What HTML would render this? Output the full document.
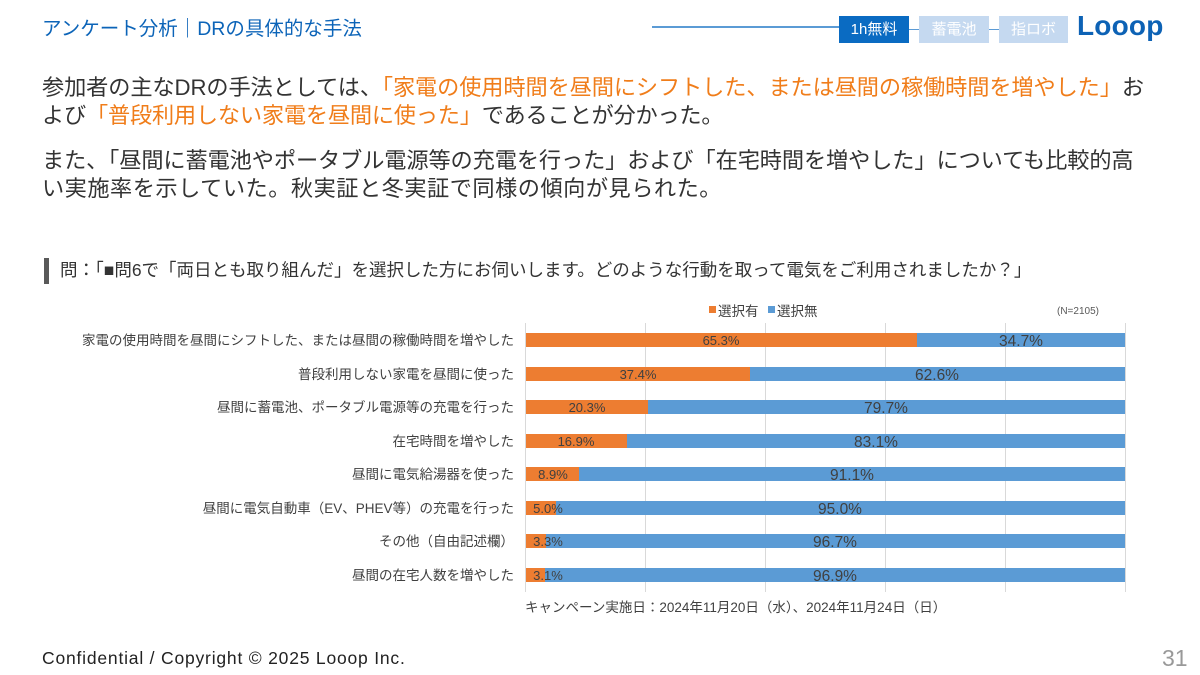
<!DOCTYPE html>
<html><head><meta charset="utf-8">
<style>
html,body{margin:0;padding:0;background:#fff;}
body{width:1200px;height:675px;position:relative;overflow:hidden;font-family:"Liberation Sans","Noto Sans CJK JP",sans-serif;}
.a{position:absolute;white-space:nowrap;}
.t{color:#333;font-size:22.2px;line-height:24px;}
.o{color:#f07d1a;}
</style></head><body>
<div class="a" style="left:42px;top:18px;font-size:19.5px;line-height:22px;color:#0c64b8;">アンケート分析｜DRの具体的な手法</div>
<div class="a" style="left:652px;top:26px;width:188px;height:2px;background:#5b9bd5;"></div>
<div class="a" style="left:909px;top:29px;width:10px;height:1px;background:#5b9bd5;"></div>
<div class="a" style="left:989px;top:29px;width:10px;height:1px;background:#5b9bd5;"></div>
<div class="a" style="left:839px;top:16px;width:70px;height:27px;background:#0a6bc2;color:#fff;font-size:15px;line-height:27px;text-align:center;">1h無料</div>
<div class="a" style="left:919px;top:16px;width:70px;height:27px;background:#c5d9f0;color:#fff;font-size:15px;line-height:27px;text-align:center;">蓄電池</div>
<div class="a" style="left:999px;top:16px;width:69px;height:27px;background:#c5d9f0;color:#fff;font-size:15px;line-height:27px;text-align:center;">指ロボ</div>
<div class="a" style="left:1077px;top:10px;font-size:28px;line-height:32px;font-weight:bold;color:#0d62b5;letter-spacing:0.2px;">Looop</div>

<div class="a t" style="left:42px;top:76px;letter-spacing:-0.1px;">参加者の主なDRの手法としては、<span class="o">「家電の使用時間を昼間にシフトした、または昼間の稼働時間を増やした」</span>お</div>
<div class="a t" style="left:42px;top:104px;letter-spacing:-0.2px;">よび<span class="o">「普段利用しない家電を昼間に使った」</span>であることが分かった。</div>
<div class="a t" style="left:42px;top:149px;letter-spacing:-0.1px;">また、「昼間に蓄電池やポータブル電源等の充電を行った」および「在宅時間を増やした」についても比較的高</div>
<div class="a t" style="left:42px;top:177px;letter-spacing:0.5px;">い実施率を示していた。秋実証と冬実証で同様の傾向が見られた。</div>

<div class="a" style="left:44px;top:258px;width:5px;height:26px;background:#595959;"></div>
<div class="a" style="left:60px;top:260px;font-size:17.5px;line-height:20px;color:#333;">問：「■問6で「両日とも取り組んだ」を選択した方にお伺いします。どのような行動を取って電気をご利用されましたか？」</div>

<svg class="a" style="left:0;top:0;" width="1200" height="675" xmlns="http://www.w3.org/2000/svg" font-family="Liberation Sans, Noto Sans CJK JP, sans-serif">
  <g stroke="#d9d9d9" stroke-width="1">
    <line x1="645.5" y1="323" x2="645.5" y2="592"/>
    <line x1="765.5" y1="323" x2="765.5" y2="592"/>
    <line x1="885.5" y1="323" x2="885.5" y2="592"/>
    <line x1="1005.5" y1="323" x2="1005.5" y2="592"/>
    <line x1="1125.5" y1="323" x2="1125.5" y2="592"/>
    <line x1="525.5" y1="323" x2="525.5" y2="592"/>
  </g>
  <rect x="709" y="306" width="7" height="7" fill="#ed7d31"/>
  <text x="718" y="316" font-size="13.5" fill="#404040">選択有</text>
  <rect x="768" y="306" width="7" height="7" fill="#5b9bd5"/>
  <text x="777" y="316" font-size="13.5" fill="#404040">選択無</text>
  <text x="1057" y="314" font-size="10" fill="#595959">(N=2105)</text>

  <g font-size="13.5" fill="#404040" text-anchor="end">
    <text x="514" y="345">家電の使用時間を昼間にシフトした、または昼間の稼働時間を増やした</text>
    <text x="514" y="379">普段利用しない家電を昼間に使った</text>
    <text x="514" y="412">昼間に蓄電池、ポータブル電源等の充電を行った</text>
    <text x="514" y="446">在宅時間を増やした</text>
    <text x="514" y="479">昼間に電気給湯器を使った</text>
    <text x="514" y="513">昼間に電気自動車（EV、PHEV等）の充電を行った</text>
    <text x="514" y="546">その他（自由記述欄）</text>
    <text x="514" y="580">昼間の在宅人数を増やした</text>
  </g>

  <g>
    <rect x="526" y="333" width="391" height="14" fill="#ed7d31"/><rect x="917" y="333" width="208" height="14" fill="#5b9bd5"/>
    <rect x="526" y="367" width="224" height="14" fill="#ed7d31"/><rect x="750" y="367" width="375" height="14" fill="#5b9bd5"/>
    <rect x="526" y="400" width="122" height="14" fill="#ed7d31"/><rect x="648" y="400" width="477" height="14" fill="#5b9bd5"/>
    <rect x="526" y="434" width="101" height="14" fill="#ed7d31"/><rect x="627" y="434" width="498" height="14" fill="#5b9bd5"/>
    <rect x="526" y="467" width="53" height="14" fill="#ed7d31"/><rect x="579" y="467" width="546" height="14" fill="#5b9bd5"/>
    <rect x="526" y="501" width="30" height="14" fill="#ed7d31"/><rect x="556" y="501" width="569" height="14" fill="#5b9bd5"/>
    <rect x="526" y="534" width="20" height="14" fill="#ed7d31"/><rect x="546" y="534" width="579" height="14" fill="#5b9bd5"/>
    <rect x="526" y="568" width="19" height="14" fill="#ed7d31"/><rect x="545" y="568" width="580" height="14" fill="#5b9bd5"/>
  </g>
  <g font-size="13" fill="#404040" text-anchor="middle">
    <text x="721" y="345">65.3%</text>
    <text x="638" y="379">37.4%</text>
    <text x="587" y="412">20.3%</text>
    <text x="576" y="446">16.9%</text>
    <text x="553" y="479">8.9%</text>
    <text x="548" y="513">5.0%</text>
    <text x="548" y="546">3.3%</text>
    <text x="548" y="580">3.1%</text>
  </g>
  <g font-size="15.5" fill="#404040" text-anchor="middle">
    <text x="1021" y="346">34.7%</text>
    <text x="937" y="380">62.6%</text>
    <text x="886" y="413">79.7%</text>
    <text x="876" y="447">83.1%</text>
    <text x="852" y="480">91.1%</text>
    <text x="840" y="514">95.0%</text>
    <text x="835" y="547">96.7%</text>
    <text x="835" y="581">96.9%</text>
  </g>
  <text x="525" y="612" font-size="13.5" fill="#404040">キャンペーン実施日：2024年11月20日（水）、2024年11月24日（日）</text>
</svg>

<div class="a" style="left:42px;top:648px;font-size:17.5px;line-height:20px;color:#222;letter-spacing:0.8px;">Confidential / Copyright © 2025 Looop Inc.</div>
<div class="a" style="left:1162px;top:645px;font-size:23px;line-height:26px;color:#999;">31</div>
</body></html>
